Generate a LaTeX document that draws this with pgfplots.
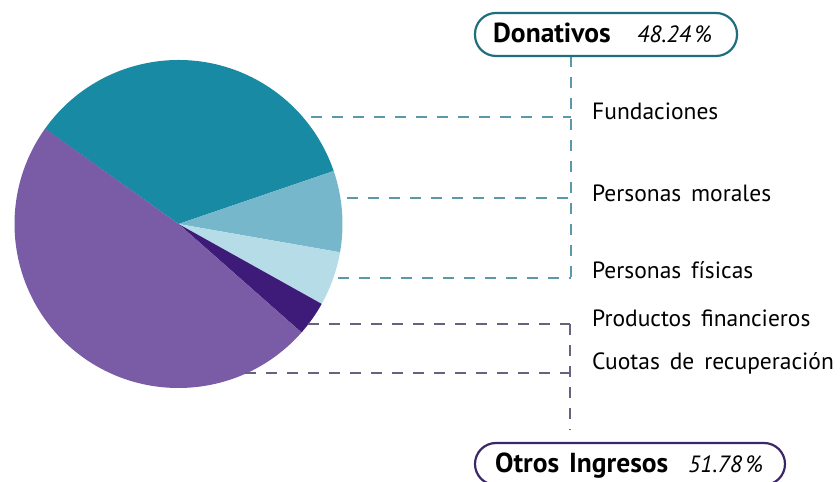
\documentclass[border=0pt]{standalone}
\usepackage{fontspec}
\setmainfont{PT Sans}
\usepackage{pgfplots}
\usepackage{pgfplotstable}
\pgfplotsset{compat=1.18}

\definecolor{cFund}{HTML}{198AA3}
\definecolor{cMor}{HTML}{76B7CC}
\definecolor{cFis}{HTML}{B6DCE8}
\definecolor{cProd}{HTML}{3E1B78}
\definecolor{cCuo}{HTML}{7A5CA6}
\definecolor{lineTeal}{HTML}{5A98AA}
\definecolor{linePur}{HTML}{67627F}
\definecolor{boxTeal}{HTML}{1E6E7D}
\definecolor{boxPur}{HTML}{3A2668}

\pgfplotstableread[col sep=comma]{
value,color
34.9,cFund
8.0,cMor
5.34,cFis
3.4,cProd
48.38,cCuo
}\piedata

\newcommand{\lab}{\fontsize{23.5bp}{28bp}\selectfont\spaceskip=0.42em\relax}
\newcommand{\pct}{\fontsize{23.5bp}{28bp}\selectfont}
\newcommand{\titlefont}{\fontsize{27.5bp}{32bp}\selectfont\spaceskip=0.36em\relax}

\begin{document}
\begin{tikzpicture}
\begin{axis}[
  x=1bp, y=1bp,
  xmin=0, xmax=840, ymin=0, ymax=482,
  hide axis, clip=false,
]
\coordinate (bl) at (axis cs:0,0);
\coordinate (tr) at (axis cs:840,482);
\pgfplotsextra{
  \xdef\angstart{144.5}
  \pgfplotstablegetrowsof{\piedata}
  \pgfmathtruncatemacro\nrows{\pgfplotsretval-1}
  \foreach \i in {0,...,\nrows}{
    \pgfplotstablegetelem{\i}{value}\of\piedata
    \let\v\pgfplotsretval
    \pgfplotstablegetelem{\i}{color}\of\piedata
    \let\c\pgfplotsretval
    \pgfmathsetmacro\angend{\angstart-3.6*\v}
    \fill[fill=\c] (axis cs:178.5,258) -- ++(\angstart:164bp)
      arc[start angle=\angstart, end angle=\angend, radius=164bp] -- cycle;
    \xdef\angstart{\angend}
  }
}
% leader lines, teal
\draw[lineTeal, line width=2.2bp, dash pattern=on 11bp off 10bp]
  (axis cs:311,365) -- (axis cs:571,365);
\draw[lineTeal, line width=2.2bp, dash pattern=on 11bp off 10bp]
  (axis cs:347,284) -- (axis cs:571,284);
\draw[lineTeal, line width=2.2bp, dash pattern=on 11bp off 10bp]
  (axis cs:338,204) -- (axis cs:571,204);
\draw[lineTeal, line width=2.2bp, dash pattern=on 11bp off 10bp]
  (axis cs:571,426) -- (axis cs:571,204);
% leader lines, purple
\draw[linePur, line width=2.2bp, dash pattern=on 11bp off 10bp]
  (axis cs:308,158) -- (axis cs:570,158);
\draw[linePur, line width=2.2bp, dash pattern=on 11bp off 10bp]
  (axis cs:245,109) -- (axis cs:570,109);
\draw[linePur, line width=2.2bp, dash pattern=on 11bp off 10bp]
  (axis cs:570,158) -- (axis cs:570,52);
% boxes
\draw[boxTeal, line width=2.2bp, rounded corners=21bp, fill=white]
  (axis cs:475,426) rectangle (axis cs:737,469);
\draw[boxPur, line width=2.2bp, rounded corners=21bp, fill=white]
  (axis cs:475,-3) rectangle (axis cs:785,39);
\node[anchor=base west, inner sep=0pt] at (axis cs:493,439) {\titlefont\bfseries Donativos};
\node[anchor=base west, inner sep=0pt] at (axis cs:637,439) {\pct\itshape 48.24\,\%};
\node[anchor=base west, inner sep=0pt] at (axis cs:495,9) {\titlefont\bfseries Otros Ingresos};
\node[anchor=base west, inner sep=0pt] at (axis cs:688,9) {\pct\itshape 51.78\,\%};
% labels
\node[anchor=base west, inner sep=0pt] at (axis cs:592,362) {\lab Fundaciones};
\node[anchor=base west, inner sep=0pt] at (axis cs:592,280) {\lab Personas morales};
\node[anchor=base west, inner sep=0pt] at (axis cs:592,203) {\lab Personas físicas};
\node[anchor=base west, inner sep=0pt] at (axis cs:592,155) {\lab Productos financieros};
\node[anchor=base west, inner sep=0pt] at (axis cs:592,112) {\lab Cuotas de recuperación};
\end{axis}
\pgfresetboundingbox
\path (bl) rectangle (tr);
\end{tikzpicture}
\end{document}
